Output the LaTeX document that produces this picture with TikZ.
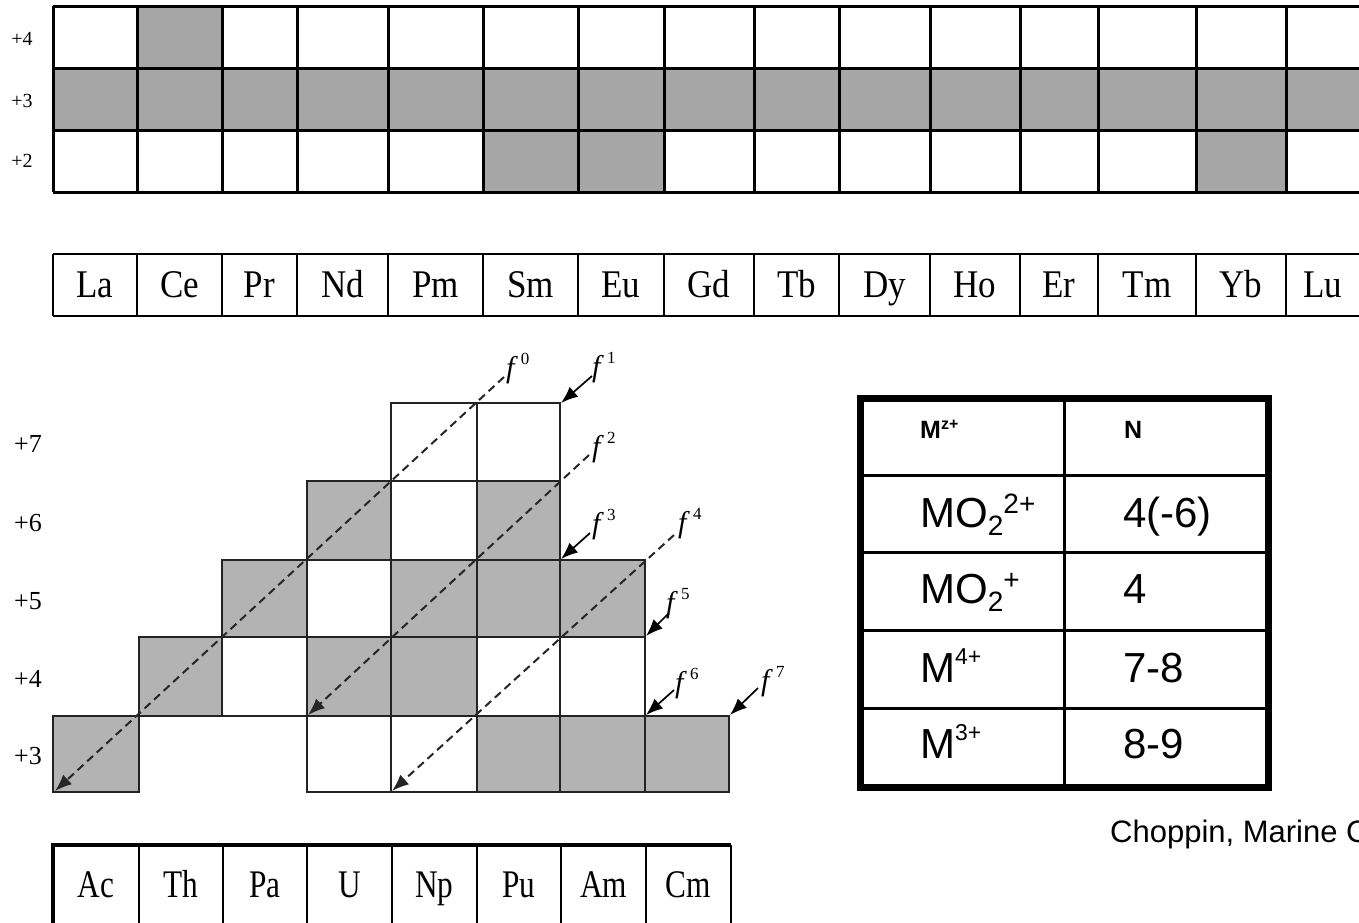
\documentclass[tikz,border=0pt]{standalone}
\usepackage{fontspec}
\setmainfont{Liberation Serif}
\newfontfamily\arialfont{Liberation Sans}
\usetikzlibrary{arrows.meta}

\definecolor{lngray}{RGB}{166,166,166}
\definecolor{acgray}{RGB}{179,179,179}
\definecolor{acline}{RGB}{35,35,35}

% italic f with an upright raised digit
\newcommand\fshell[1]{\textit{f}\kern3pt\raisebox{13pt}{\fontsize{17}{17}\selectfont #1}}
% element symbols, set slightly tall
\newcommand\tallsym[1]{\scalebox{1}[1.12]{#1}}

\begin{document}
\begin{tikzpicture}[x=1pt,y=-1pt,
  gridline/.style={line width=3pt,black},
  lanline/.style={line width=2.5pt,black},
  lanname/.style={anchor=base,inner sep=0pt,font=\fontsize{35}{40}\selectfont},
  actname/.style={anchor=base,inner sep=0pt,font=\fontsize{34}{40}\selectfont},
  oxlabel/.style={anchor=base,inner sep=0pt,font=\fontsize{20}{22}\selectfont},
  acoxlabel/.style={anchor=base,inner sep=0pt,font=\fontsize{26}{30}\selectfont},
  accell/.style={draw=acline,line width=1.5pt},
  shelllabel/.style={anchor=base west,inner sep=0pt,font=\fontsize{30}{34}\selectfont},
  fill arrow/.style={draw=black,line width=1.7pt,-{Latex[length=17pt,width=13pt]}},
  fill dashed/.style={draw=black!85,line width=2pt,dash pattern=on 8pt off 5pt,-{Latex[length=17pt,width=13pt]}},
  tabtext/.style={anchor=base west,inner sep=0pt,font=\arialfont\fontsize{42}{46}\selectfont},
  tabhead/.style={anchor=base west,inner sep=0pt,font=\arialfont\bfseries\fontsize{25}{28}\selectfont},
]
\useasboundingbox (0,0) rectangle (1359,922);
\clip (0,0) rectangle (1359,922);

%% ---------------- lanthanide oxidation states ----------------
\fill[lngray] (137,6) rectangle (222,68);
\fill[lngray] (53,68) rectangle (1380,130);
\fill[lngray] (483,130) rectangle (664,192);
\fill[lngray] (1196,130) rectangle (1286,192);
\foreach \y in {6,68,130,192} \draw[gridline] (53,\y) -- (1380,\y);
\foreach \x in {53,137,222,297,388,483,578,664,754,839,930,1020,1098,1196,1286}
  \draw[gridline] (\x,6) -- (\x,192);
\node[oxlabel] (ln4) at (22,45) {+4};
\node[oxlabel] (ln3) at (22,107) {+3};
\node[oxlabel] (ln2) at (22,167) {+2};

%% ---------------- lanthanide row ----------------
\draw[lanline] (53,254) -- (1380,254);
\draw[lanline] (53,316) -- (1380,316);
\foreach \x in {53,137,222,297,388,483,578,664,754,839,930,1020,1098,1196,1286}
  \draw[lanline] (\x,254) -- (\x,316);
\foreach \a/\b/\s in {53/137/La,137/222/Ce,222/297/Pr,297/388/Nd,388/483/Pm,
    483/578/Sm,578/664/Eu,664/754/Gd,754/839/Tb,839/930/Dy,930/1020/Ho,
    1020/1098/Er,1098/1196/Tm,1196/1286/Yb,1286/1359/Lu}
  \node[lanname] (el-\s) at ({(\a+\b)/2},297) {\tallsym{\s}};

%% ---------------- actinide oxidation states ----------------
\def\AX{{53,139,222,307,391,477,560,645,729}}
\def\AY{{403,481,560,637,716,792}}
\foreach \c/\r/\f in {
    0/4/acgray, 3/4/white, 4/4/white, 5/4/acgray, 6/4/acgray, 7/4/acgray,
    1/3/acgray, 2/3/white, 3/3/acgray, 4/3/acgray, 5/3/white, 6/3/white,
    2/2/acgray, 3/2/white, 4/2/acgray, 5/2/acgray, 6/2/acgray,
    3/1/acgray, 4/1/white, 5/1/acgray,
    4/0/white, 5/0/white} {
  \pgfmathsetmacro\xa{\AX[\c]}
  \pgfmathsetmacro\xb{\AX[\c+1]}
  \pgfmathsetmacro\ya{\AY[\r]}
  \pgfmathsetmacro\yb{\AY[\r+1]}
  \filldraw[accell,fill=\f] (\xa,\ya) rectangle (\xb,\yb);
}
\node[acoxlabel] (ac7) at (28,452) {+7};
\node[acoxlabel] (ac6) at (28,531) {+6};
\node[acoxlabel] (ac5) at (28,609) {+5};
\node[acoxlabel] (ac4) at (28,687) {+4};
\node[acoxlabel] (ac3) at (28,764) {+3};

% f-shell labels
\node[shelllabel] (f0) at (506,377) {\fshell{0}};
\node[shelllabel] (f1) at (592,376) {\fshell{1}};
\node[shelllabel] (f2) at (592,456) {\fshell{2}};
\node[shelllabel] (f3) at (592,533) {\fshell{3}};
\node[shelllabel] (f4) at (678,532) {\fshell{4}};
\node[shelllabel] (f5) at (666,612) {\fshell{5}};
\node[shelllabel] (f6) at (675,692) {\fshell{6}};
\node[shelllabel] (f7) at (761,690) {\fshell{7}};

% arrow ends
\coordinate (t0) at (504,377);  \coordinate (h0) at (55,791);
\coordinate (t1) at (592,376);  \coordinate (h1) at (561,403);
\coordinate (t2) at (589,455);  \coordinate (h2) at (308,715);
\coordinate (t3) at (590,533);  \coordinate (h3) at (561,559);
\coordinate (t4) at (674,535);  \coordinate (h4) at (392,791);
\coordinate (t5) at (669,613);  \coordinate (h5) at (646,636);
\coordinate (t6) at (674,690);  \coordinate (h6) at (646,715);
\coordinate (t7) at (758,688);  \coordinate (h7) at (730,715);

\draw[fill dashed] (t0) -- (h0);
\draw[fill dashed] (t2) -- (h2);
\draw[fill dashed] (t4) -- (h4);
\draw[fill arrow] (t1) -- (h1);
\draw[fill arrow] (t3) -- (h3);
\draw[fill arrow] (t5) -- (h5);
\draw[fill arrow] (t6) -- (h6);
\draw[fill arrow] (t7) -- (h7);

%% ---------------- actinide row ----------------
\draw[line width=3.5pt] (53,930) -- (53,845) -- (731,845);
\draw[line width=2.5pt] (731,845) -- (731,930);
\foreach \x in {139,223,307,392,477,561,646}
  \draw[line width=1.5pt] (\x,845) -- (\x,930);
\foreach \a/\b/\s in {53/139/Ac,139/223/Th,223/307/Pa,307/392/U,
    392/477/Np,477/561/Pu,561/646/Am,646/731/Cm}
  \node[actname] (el-\s) at ({(\a+\b)/2},897) {\scalebox{0.92}[1.15]{\s}};

%% ---------------- coordination numbers ----------------
\foreach \y in {475,552,630,708} \draw[line width=3pt] (860,\y) -- (1268,\y);
\draw[line width=3pt] (1064,398) -- (1064,787);
\draw[line width=7pt] (860,398) rectangle (1268,787);

\node[tabhead] (hM) at (920,438)
  {M\raisebox{9pt}{\fontsize{16}{16}\selectfont z+}};
\node[tabhead] (hN) at (1124,438) {N};

\newcommand\tsmall[1]{\fontsize{28}{28}\selectfont #1}
\node[tabtext] (r1a) at (920,527)
  {MO\raisebox{-8pt}{\tsmall{2}}\raisebox{14pt}{\tsmall{2+}}};
\node[tabtext] (r1b) at (1123,527) {4(-6)};
\node[tabtext] (r2a) at (920,603)
  {MO\raisebox{-8pt}{\tsmall{2}}\raisebox{14pt}{\tsmall{+}}};
\node[tabtext] (r2b) at (1123,603) {4};
\node[tabtext] (r3a) at (920,682)
  {M\raisebox{18pt}{\fontsize{23}{23}\selectfont 4+}};
\node[tabtext] (r3b) at (1123,682) {7-8};
\node[tabtext] (r4a) at (920,758)
  {M\raisebox{18pt}{\fontsize{23}{23}\selectfont 3+}};
\node[tabtext] (r4b) at (1123,758) {8-9};

\node[anchor=base west,inner sep=0pt,font=\arialfont\fontsize{31}{34}\selectfont]
  (src) at (1110,842) {Choppin, Marine C};
\end{tikzpicture}
\end{document}
